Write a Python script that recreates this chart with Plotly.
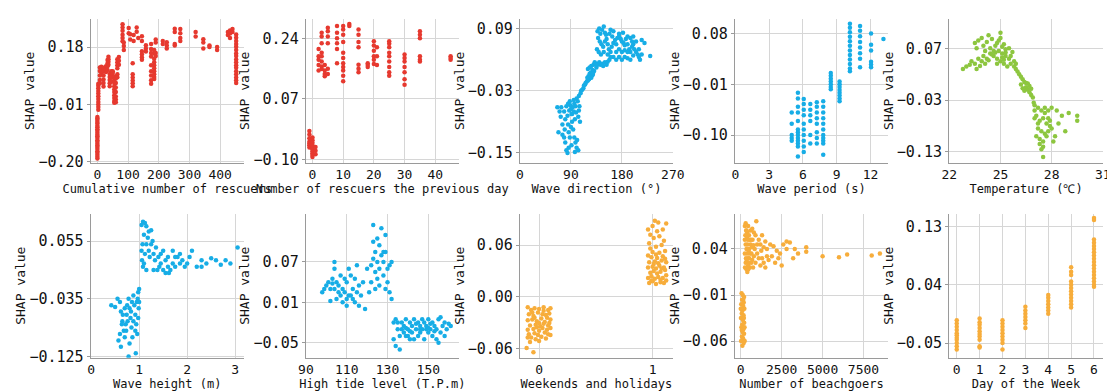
import plotly.graph_objects as go
from plotly.subplots import make_subplots

RED = "#e6392f"
BLUE = "#17ade6"
GREEN = "#8dc63f"
ORANGE = "#f7ad3b"

# ---------------- Panel 1: Cumulative number of rescuers (columns) -------------
cum_cols = [0, 3, 8, 13, 20, 28, 33, 36, 40, 45, 50, 55, 60, 65, 70, 82, 86, 102, 107, 115,
            118, 128, 133, 145, 158, 175, 185, 190, 213, 226, 252, 270, 320, 345, 365, 390,
            425, 432, 440, 452]
cum_vals = [
    [-0.19, -0.184, -0.177, -0.171, -0.166, -0.158, -0.152, -0.147, -0.141, -0.134, -0.129, -0.122,
     -0.116, -0.111, -0.104, -0.098, -0.093, -0.086, -0.081, -0.074, -0.069, -0.062, -0.057, -0.052],
    [-0.028, -0.019, -0.011, -0.002, 0.008, 0.017, 0.026, 0.034, 0.043, 0.052, 0.058],
    [0.112, 0.101, 0.086, 0.071, 0.06],
    [0.115, 0.109, 0.103, 0.09],
    [0.111, 0.099, 0.086, 0.072, 0.061, 0.049],
    [0.116, 0.106, 0.097],
    [0.137, 0.126, 0.116, 0.104],
    [0.148, 0.14, 0.131, 0.121],
    [0.091, 0.081, 0.071, 0.06, 0.05],
    [0.1, 0.089, 0.079, 0.066],
    [0.1, 0.094],
    [0.082, 0.071, 0.061, 0.05, 0.04, 0.031, 0.02, 0.011, 0.001, -0.005],
    [0.076, 0.061, 0.046, 0.031, 0.016, 0.006, -0.003],
    [0.14, 0.13, 0.12, 0.11, 0.09, 0.08],
    [0.147, 0.135, 0.121],
    [0.256, 0.245, 0.234, 0.221, 0.21, 0.199],
    [0.195, 0.184, 0.17],
    [0.243, 0.226],
    [0.223, 0.205],
    [0.126, 0.09, 0.079, 0.069, 0.06, 0.05],
    [0.22, 0.2],
    [0.245, 0.231],
    [0.21],
    [0.216, 0.2, 0.166, 0.156, 0.146, 0.138],
    [0.186, 0.175, 0.165],
    [0.19, 0.174, 0.16, 0.149, 0.12, 0.1, 0.086, 0.07, 0.058],
    [0.17, 0.159, 0.141, 0.13, 0.12, 0.11, 0.1, 0.09, 0.081, 0.074],
    [0.205, 0.195, 0.16, 0.15],
    [0.2, 0.19],
    [0.196, 0.185, 0.175],
    [0.241, 0.23, 0.19, 0.185],
    [0.24, 0.226, 0.21, 0.2],
    [0.23, 0.215],
    [0.206, 0.195, 0.175],
    [0.185, 0.18],
    [0.18, 0.17],
    [0.23, 0.22],
    [0.235, 0.225, 0.21],
    [0.24, 0.23],
    [0.222, 0.211, 0.2, 0.19, 0.181, 0.17, 0.159, 0.15, 0.139, 0.13, 0.12, 0.111, 0.1, 0.09,
     0.079, 0.07, 0.061],
]

# ---------------- Panel 2: Number of rescuers the previous day (columns) --------
prev_cols = [-1, 0, 1, 2, 3, 4, 5, 8, 10, 12, 15, 18, 20, 21, 25, 30, 35, 45]
prev_vals = [
    [-0.02, -0.03, -0.04, -0.05, -0.055, -0.06, -0.066],
    [-0.038, -0.046, -0.053, -0.06, -0.066, -0.071, -0.077, -0.082, -0.087, -0.093],
    [-0.065, -0.075, -0.085],
    [0.21, 0.19, 0.18, 0.165, 0.15],
    [0.256, 0.245, 0.226, 0.2, 0.19, 0.175, 0.161, 0.154],
    [0.165, 0.15, 0.14, 0.134],
    [0.27, 0.26, 0.245, 0.226, 0.155, 0.14],
    [0.275, 0.256, 0.24, 0.226, 0.21, 0.17],
    [0.275, 0.265, 0.25, 0.23, 0.2, 0.185, 0.17, 0.16, 0.15, 0.135, 0.12],
    [0.28, 0.275],
    [0.265, 0.25, 0.23, 0.215, 0.166, 0.155, 0.145],
    [0.17, 0.165, 0.16],
    [0.232, 0.22, 0.205, 0.19, 0.18, 0.168],
    [0.215, 0.19, 0.165],
    [0.232, 0.225, 0.215, 0.2, 0.19, 0.175, 0.16, 0.145, 0.135],
    [0.195, 0.185, 0.175, 0.16, 0.145, 0.125, 0.11],
    [0.26, 0.25, 0.24, 0.19, 0.18, 0.175],
    [0.19, 0.185, 0.18],
]

# ---------------- Panel 3: Wave direction (scatter) ----------------------------
wave_dir_pts = [
    (66, -0.062), (70, -0.07), (72, -0.08), (68, -0.11), (75, -0.115), (78, -0.12), (80, -0.13),
    (82, -0.145), (84, -0.15), (86, -0.14), (88, -0.12), (90, -0.1), (92, -0.09), (85, -0.095),
    (80, -0.085), (78, -0.07), (82, -0.06), (85, -0.055), (88, -0.05), (90, -0.065), (92, -0.075),
    (95, -0.07), (96, -0.055), (98, -0.06), (100, -0.045), (102, -0.05), (105, -0.06), (97, -0.085),
    (94, -0.105), (96, -0.12), (98, -0.13), (100, -0.14), (103, -0.145), (101, -0.125), (91, -0.075),
    (87, -0.068), (93, -0.062), (99, -0.072), (103, -0.08), (95, -0.048), (89, -0.058), (84, -0.078),
    (75, -0.095), (73, -0.062), (79, -0.105), (86, -0.11), (91, -0.135), (97, -0.148), (104, -0.068),
    (106, -0.09),
    (104, -0.04), (107, -0.035), (108, -0.03), (110, -0.028), (112, -0.025), (113, -0.02),
    (115, -0.018), (116, -0.015), (118, -0.012), (120, -0.01), (122, -0.008), (119, -0.005),
    (121, -0.002), (124, 0.0), (126, -0.005), (128, 0.0), (125, 0.005), (123, 0.003),
    (120, 0.012), (123, 0.015), (126, 0.018), (128, 0.01), (130, 0.02), (132, 0.025), (134, 0.022),
    (135, 0.015), (137, 0.02), (140, 0.025), (142, 0.02), (145, 0.022), (147, 0.018), (150, 0.025),
    (153, 0.02), (155, 0.026), (158, 0.03), (127, 0.005), (131, 0.008), (129, 0.003),
    (137, 0.085), (140, 0.09), (142, 0.08), (145, 0.088), (148, 0.094), (150, 0.082), (152, 0.078),
    (138, 0.072), (141, 0.065), (144, 0.06), (147, 0.055), (150, 0.065), (153, 0.07), (155, 0.06),
    (157, 0.05), (160, 0.045), (162, 0.055), (165, 0.062), (168, 0.068), (170, 0.06), (172, 0.072),
    (175, 0.075), (178, 0.07), (180, 0.065), (183, 0.062), (185, 0.058), (187, 0.07), (190, 0.06),
    (193, 0.05), (195, 0.045), (198, 0.055), (200, 0.06), (202, 0.05), (205, 0.045), (208, 0.04),
    (210, 0.035), (212, 0.03), (200, 0.038), (195, 0.03), (190, 0.033), (185, 0.035), (180, 0.03),
    (175, 0.035), (170, 0.03), (165, 0.035), (160, 0.035), (155, 0.04), (148, 0.045), (143, 0.04),
    (139, 0.045), (136, 0.05), (170, 0.045), (175, 0.05), (180, 0.045), (185, 0.048), (190, 0.045),
    (163, 0.075), (158, 0.08), (160, 0.088), (165, 0.085), (175, 0.08), (182, 0.082), (190, 0.075),
    (195, 0.072), (205, 0.065), (215, 0.068), (220, 0.062), (200, 0.075), (230, 0.037), (215, 0.04),
    (210, 0.05), (198, 0.065),
]

# ---------------- Panel 4: Wave period (columns) -------------------------------
period_cols = [5.0, 5.55, 6.07, 6.65, 7.23, 7.8, 8.47, 9.25, 10.17, 11.07, 12.05, 13.15]
period_vals = [
    [-0.06, -0.08, -0.1, -0.105, -0.11],
    [-0.025, -0.035, -0.05, -0.06, -0.075, -0.09, -0.095, -0.1, -0.105, -0.11, -0.115, -0.12, -0.138],
    [-0.036, -0.045, -0.055, -0.065, -0.08, -0.09, -0.1, -0.11, -0.12, -0.13],
    [-0.045, -0.055, -0.065, -0.075, -0.1, -0.115],
    [-0.042, -0.05, -0.06, -0.07, -0.08, -0.095, -0.105, -0.115],
    [-0.04, -0.05, -0.06, -0.07, -0.08, -0.09, -0.1, -0.105, -0.11, -0.115, -0.135],
    [0.01, 0.005, 0.0, -0.005, -0.01, -0.015, -0.019],
    [-0.005, -0.01, -0.015, -0.02, -0.025, -0.03, -0.035, -0.04],
    [0.097, 0.09, 0.082, 0.074, 0.066, 0.058, 0.05, 0.042, 0.034, 0.026, 0.018, 0.013],
    [0.093, 0.085, 0.075, 0.065, 0.055, 0.045, 0.035, 0.02],
    [0.08, 0.06, 0.05, 0.03, 0.025, 0.02],
    [0.07],
]

# ---------------- Panel 5: Temperature (scatter) -------------------------------
temp_pts = [
    (22.8, 0.03), (23.0, 0.035), (23.2, 0.038), (23.3, 0.045), (23.5, 0.04), (23.7, 0.05),
    (23.9, 0.045), (24.0, 0.055), (24.2, 0.05), (24.4, 0.06), (24.6, 0.055), (24.8, 0.05),
    (25.0, 0.045), (25.2, 0.04), (25.4, 0.035), (25.6, 0.04), (25.8, 0.035), (25.5, 0.05),
    (25.3, 0.055), (25.1, 0.06), (24.9, 0.065), (24.7, 0.062), (24.5, 0.058), (24.3, 0.047),
    (24.1, 0.04), (23.8, 0.036), (23.6, 0.03), (24.8, 0.04), (25.2, 0.048), (25.6, 0.055),
    (25.8, 0.045), (25.9, 0.04), (25.7, 0.063), (25.5, 0.07), (25.3, 0.062), (25.1, 0.052),
    (25.9, 0.03), (26.0, 0.025), (26.1, 0.02), (26.2, 0.015), (26.3, 0.01), (26.4, 0.005),
    (26.2, 0.0), (26.5, -0.005), (26.6, -0.01), (26.7, -0.015), (26.8, -0.008), (26.5, 0.003),
    (26.4, -0.012), (26.6, 0.002), (26.7, -0.003), (26.3, -0.007), (26.8, -0.02), (26.9, -0.025),
    (26.95, -0.035),
    (23.5, 0.08), (23.7, 0.085), (23.9, 0.09), (24.0, 0.075), (24.2, 0.082), (24.4, 0.07),
    (24.6, 0.065), (24.8, 0.08), (25.0, 0.09), (25.0, 0.1), (24.9, 0.085), (25.2, 0.078),
    (24.3, 0.095), (24.5, 0.088), (23.6, 0.07), (25.1, 0.073), (25.3, 0.068), (24.1, 0.065),
    (24.7, 0.075),
    (27.0, -0.04), (27.2, -0.045), (27.4, -0.05), (27.6, -0.055), (27.8, -0.05), (28.0, -0.045),
    (27.1, -0.06), (27.3, -0.07), (27.5, -0.065), (27.7, -0.075), (27.9, -0.08), (27.2, -0.085),
    (27.4, -0.09), (27.6, -0.095), (27.8, -0.09), (28.0, -0.085), (27.1, -0.1), (27.3, -0.105),
    (27.5, -0.11), (27.7, -0.1), (27.3, -0.115), (27.5, -0.12), (27.2, -0.075), (27.0, -0.065),
    (28.1, -0.11), (27.4, -0.125), (27.5, -0.14), (27.8, -0.065), (28.3, -0.05), (28.6, -0.06),
    (29.0, -0.055), (29.5, -0.06), (29.5, -0.07), (28.8, -0.09), (28.4, -0.075), (28.2, -0.1),
    (27.6, -0.045), (27.0, -0.05), (27.9, -0.07),
]

# ---------------- Panel 6: Wave height (scatter) -------------------------------
height_pts = [
    (0.42, -0.045), (0.5, -0.048), (0.55, -0.035), (0.6, -0.04), (0.62, -0.055), (0.65, -0.07),
    (0.68, -0.085), (0.6, -0.09), (0.57, -0.1), (0.62, -0.11), (0.7, -0.095), (0.72, -0.075),
    (0.74, -0.06), (0.75, -0.045), (0.78, -0.035), (0.8, -0.05), (0.82, -0.065), (0.84, -0.08),
    (0.86, -0.095), (0.8, -0.105), (0.78, -0.125), (0.88, -0.03), (0.9, -0.045), (0.92, -0.06),
    (0.94, -0.075), (0.96, -0.09), (0.93, -0.12), (0.98, -0.025), (1.0, -0.02), (0.97, -0.035),
    (0.99, -0.05), (0.95, -0.04), (0.85, -0.04), (0.7, -0.05), (0.66, -0.06), (0.76, -0.07),
    (0.88, -0.07), (0.92, -0.085), (0.98, -0.065), (1.0, -0.04), (0.83, -0.055), (0.73, -0.085),
    (0.64, -0.075),
    (1.05, 0.08), (1.08, 0.085), (1.12, 0.083), (1.15, 0.078), (1.2, 0.07), (1.25, 0.072),
    (1.1, 0.065), (1.07, 0.05), (1.05, 0.04), (1.06, 0.025), (1.08, 0.015), (1.1, 0.02),
    (1.15, 0.05), (1.18, 0.06), (1.2, 0.04), (1.22, 0.03), (1.25, 0.05), (1.28, 0.055),
    (1.3, 0.035), (1.33, 0.025), (1.35, 0.045), (1.4, 0.03), (1.42, 0.015), (1.45, 0.02),
    (1.5, 0.04), (1.55, 0.025), (1.6, 0.015), (1.62, 0.005), (1.65, 0.01), (1.7, 0.02),
    (1.75, 0.015), (1.8, 0.03), (1.85, 0.02), (1.9, 0.025), (1.95, 0.015), (2.0, 0.02),
    (2.05, 0.03), (2.1, 0.04), (2.2, 0.015), (2.3, 0.025), (2.4, 0.02), (2.5, 0.028),
    (2.6, 0.025), (2.7, 0.018), (2.8, 0.025), (2.9, 0.02), (3.05, 0.045), (1.7, 0.04),
    (1.85, 0.035), (1.6, 0.03), (1.12, 0.035), (1.15, 0.01), (1.3, 0.01), (1.38, 0.01),
    (1.5, 0.01), (1.55, 0.005), (1.75, 0.03), (1.45, 0.035), (2.3, 0.015),
]

# ---------------- Panel 7: High tide level (scatter) ---------------------------
tide_pts = [
    (98, 0.025), (99, 0.03), (100, 0.035), (101, 0.04), (102, 0.03), (103, 0.045), (104, 0.07),
    (104, 0.06), (105, 0.04), (106, 0.035), (107, 0.02), (107, 0.05), (108, 0.03), (109, 0.025),
    (110, 0.04), (110, 0.015), (111, 0.06), (112, 0.05), (112, 0.02), (113, 0.03), (114, 0.045),
    (114, 0.01), (115, 0.025), (115, 0.065), (116, 0.035), (117, 0.02), (118, 0.04), (119, 0.0),
    (120, 0.06), (102, 0.012), (104, 0.03), (106, 0.025), (108, 0.01), (110, 0.005), (111, 0.02),
    (113, 0.015), (116, 0.005), (105, 0.015), (109, 0.045), (103, 0.038),
    (121, 0.025), (122, 0.04), (122, 0.065), (123, 0.075), (123, 0.1), (123, 0.125), (124, 0.055),
    (124, 0.085), (125, 0.07), (125, 0.045), (126, 0.095), (126, 0.06), (127, 0.12), (127, 0.08),
    (128, 0.05), (128, 0.07), (129, 0.11), (129, 0.03), (130, 0.06), (130, 0.04), (131, 0.065),
    (131, 0.025), (132, 0.07), (132, 0.015), (124, 0.03), (126, 0.035), (128, 0.085),
    (125, 0.105), (129, 0.085),
    (133, -0.02), (133, -0.045), (134, -0.055), (134, -0.015), (135, -0.03), (136, -0.04),
    (136, -0.06), (137, -0.02), (138, -0.035), (138, -0.025), (139, -0.015), (140, -0.03),
    (140, -0.04), (141, -0.02), (142, -0.035), (142, -0.025), (143, -0.045), (143, -0.015),
    (144, -0.03), (145, -0.02), (145, -0.04), (146, -0.025), (146, -0.035), (147, -0.03),
    (147, -0.015), (148, -0.02), (148, -0.045), (149, -0.03), (149, -0.025), (150, -0.035),
    (150, -0.015), (151, -0.03), (152, -0.02), (152, -0.04), (153, -0.025), (154, -0.03),
    (154, -0.045), (155, -0.015), (155, -0.05), (156, -0.012), (156, -0.035), (157, -0.025),
    (158, -0.02), (158, -0.04), (159, -0.03), (160, -0.022), (161, -0.025), (137, -0.03),
    (139, -0.028), (141, -0.033), (144, -0.022), (151, -0.022), (153, -0.033), (135, -0.02),
    (146, -0.03), (150, -0.028), (141, -0.045), (139, -0.04),
]

# ---------------- Panel 8: Weekends and holidays (scatter) ---------------------
weekend_pts = [
    (-0.1, -0.012), (-0.07, -0.015), (-0.04, -0.013), (0.0, -0.014), (0.04, -0.012), (0.08, -0.015),
    (0.1, -0.013), (-0.09, -0.02), (-0.05, -0.022), (-0.01, -0.018), (0.03, -0.02), (0.06, -0.021),
    (0.09, -0.019), (-0.1, -0.027), (-0.06, -0.026), (-0.02, -0.028), (0.02, -0.025), (0.05, -0.029),
    (0.1, -0.026), (-0.08, -0.033), (-0.03, -0.032), (0.01, -0.034), (0.04, -0.031), (0.08, -0.033),
    (-0.1, -0.038), (-0.05, -0.037), (0.0, -0.039), (0.03, -0.036), (0.07, -0.038), (0.1, -0.036),
    (-0.09, -0.043), (-0.04, -0.042), (-0.01, -0.044), (0.05, -0.041), (0.08, -0.043),
    (-0.07, -0.047), (0.02, -0.046), (0.06, -0.048), (-0.03, -0.049), (-0.08, -0.052),
    (0.0, -0.051), (0.1, -0.044), (-0.11, -0.059), (-0.05, -0.064), (-0.06, -0.018),
    (0.07, -0.024), (-0.02, -0.035), (0.09, -0.03), (-0.1, -0.047), (0.04, -0.016),
    (-0.04, -0.024), (0.0, -0.03),
    (0.97, 0.016), (1.0, 0.018), (1.03, 0.015), (1.07, 0.017), (1.1, 0.016), (0.96, 0.022),
    (0.99, 0.024), (1.02, 0.021), (1.05, 0.023), (1.09, 0.022), (1.12, 0.025), (0.98, 0.028),
    (1.01, 0.03), (1.04, 0.027), (1.07, 0.029), (1.11, 0.031), (0.96, 0.034), (1.0, 0.035),
    (1.03, 0.033), (1.06, 0.036), (1.1, 0.034), (0.97, 0.04), (1.02, 0.041), (1.05, 0.039),
    (1.08, 0.042), (1.12, 0.04), (0.99, 0.046), (1.04, 0.045), (1.09, 0.047), (0.96, 0.048),
    (1.0, 0.052), (1.06, 0.051), (1.11, 0.053), (0.98, 0.056), (1.03, 0.058), (1.08, 0.06),
    (0.97, 0.062), (1.1, 0.065), (1.01, 0.068), (1.06, 0.07), (0.98, 0.072), (1.04, 0.076),
    (1.09, 0.078), (1.0, 0.082), (1.05, 0.086), (1.02, 0.088), (1.12, 0.085), (0.96, 0.078),
    (1.07, 0.02), (0.99, 0.019), (1.12, 0.019), (1.01, 0.038), (1.08, 0.033), (1.03, 0.049),
    (1.11, 0.044),
]

# ---------------- Panel 9: Number of beachgoers (scatter) ----------------------
beach_pts = [
    (50, -0.008), (120, -0.01), (200, -0.012), (80, -0.015), (180, -0.018), (30, -0.02),
    (150, -0.022), (220, -0.025), (100, -0.027), (60, -0.03), (170, -0.032), (10, -0.035),
    (130, -0.037), (210, -0.04), (90, -0.042), (40, -0.045), (160, -0.047), (110, -0.05),
    (200, -0.052), (70, -0.055), (140, -0.057), (20, -0.06), (180, -0.062), (100, -0.065),
    (240, -0.06), (60, -0.048), (190, -0.035), (0, -0.025), (150, -0.015), (230, -0.045),
    (250, 0.065), (300, 0.068), (350, 0.06), (400, 0.058), (450, 0.065), (500, 0.055),
    (550, 0.05), (600, 0.06), (700, 0.062), (800, 0.058), (900, 0.055), (950, 0.07),
    (1100, 0.05), (1200, 0.045), (1300, 0.055), (1400, 0.042), (1500, 0.048), (1600, 0.04),
    (1800, 0.045), (2000, 0.043), (2200, 0.038), (2400, 0.035), (2600, 0.045), (2800, 0.048),
    (3000, 0.047), (3200, 0.03), (3500, 0.035), (4000, 0.042), (4000, 0.037), (5000, 0.032),
    (6000, 0.031), (6500, 0.034), (8000, 0.033), (8500, 0.035),
    (250, 0.05), (300, 0.045), (350, 0.04), (400, 0.035), (450, 0.03), (500, 0.025), (550, 0.02),
    (250, 0.035), (300, 0.025), (350, 0.018), (400, 0.015), (450, 0.022), (500, 0.04),
    (600, 0.045), (650, 0.035), (700, 0.028), (750, 0.02), (800, 0.032), (850, 0.04),
    (900, 0.025), (1000, 0.035), (1100, 0.03), (1200, 0.022), (1300, 0.03), (1400, 0.025),
    (1500, 0.02), (1700, 0.028), (1900, 0.032), (2100, 0.025), (2300, 0.03), (2500, 0.022),
    (280, 0.055), (320, 0.03), (380, 0.052), (420, 0.045), (480, 0.038), (520, 0.03),
    (620, 0.05), (680, 0.042), (720, 0.05), (780, 0.044), (260, 0.02), (330, 0.06), (360, 0.028),
    (440, 0.05), (460, 0.018), (560, 0.035), (640, 0.025), (1000, 0.045), (1250, 0.038),
    (1600, 0.032), (2800, 0.04), (3300, 0.04),
]

# ---------------- Panel 10: Day of the Week (columns) --------------------------
day_cols = [0, 1, 2, 3, 4, 5, 6]
day_vals = [
    [-0.015, -0.02, -0.025, -0.03, -0.035, -0.038, -0.042, -0.045, -0.05, -0.055, -0.06],
    [-0.012, -0.018, -0.022, -0.027, -0.032, -0.036, -0.04, -0.045, -0.055, -0.057],
    [-0.015, -0.02, -0.025, -0.03, -0.035, -0.04, -0.045, -0.05, -0.06],
    [0.006, 0.0, -0.005, -0.01, -0.015, -0.02, -0.027],
    [0.024, 0.02, 0.015, 0.01, 0.005, 0.0, -0.005],
    [0.067, 0.06, 0.055, 0.045, 0.04, 0.035, 0.03, 0.025, 0.02, 0.015, 0.01, 0.005],
    [0.143, 0.14, 0.11, 0.105, 0.1, 0.095, 0.09, 0.085, 0.08, 0.075, 0.07, 0.065, 0.06, 0.055,
     0.05, 0.045, 0.04, 0.037],
]

x_titles = ["Cumulative number of rescuers", "Number of rescuers the previous day",
            "Wave direction (°)", "Wave period (s)", "Temperature (℃)",
            "Wave height (m)", "High tide level (T.P.m)", "Weekends and holidays",
            "Number of beachgoers", "Day of the Week"]
x_ticks = [[0, 100, 200, 300, 400], [0, 10, 20, 30, 40], [0, 90, 180, 270], [0, 3, 6, 9, 12],
           [22, 25, 28, 31], [0, 1, 2, 3], [90, 110, 130, 150], [0, 1], [0, 2500, 5000, 7500],
           [0, 1, 2, 3, 4, 5, 6]]
y_ticks = [[-0.20, -0.01, 0.18], [-0.10, 0.07, 0.24], [-0.15, -0.03, 0.09], [-0.10, -0.01, 0.08],
           [-0.13, -0.03, 0.07], [-0.125, -0.035, 0.055], [-0.05, 0.01, 0.07], [-0.06, 0.00, 0.06],
           [-0.06, -0.01, 0.04], [-0.05, 0.04, 0.13]]


def expand(cols, vals):
    xs, ys = [], []
    for c, v in zip(cols, vals):
        xs += [c] * len(v)
        ys += v
    return xs, ys


def split(pts):
    return [p[0] for p in pts], [p[1] for p in pts]


series = [
    expand(cum_cols, cum_vals) + (RED,),
    expand(prev_cols, prev_vals) + (RED,),
    split(wave_dir_pts) + (BLUE,),
    expand(period_cols, period_vals) + (BLUE,),
    split(temp_pts) + (GREEN,),
    split(height_pts) + (BLUE,),
    split(tide_pts) + (BLUE,),
    split(weekend_pts) + (ORANGE,),
    split(beach_pts) + (ORANGE,),
    expand(day_cols, day_vals) + (ORANGE,),
]

# layout (pixels)
W, H = 1115, 391
xdom_px = [(76, 232), (295, 451), (513, 669), (732, 888), (950, 1107)]
ydom_px = [(11, 158), (210, 357)]
x_ranges = [[-22, 477], [-2.2, 47.7], [-0.3, 270.3], [-0.05, 13.56], [21.98, 31.02],
            [-0.01, 3.18], [89.9, 165], [-0.17, 1.18], [-360, 9000], [-0.34, 6.4]]
y_ranges = [[-0.204, 0.274], [-0.109, 0.295], [-0.169, 0.109], [-0.149, 0.106], [-0.151, 0.127],
            [-0.127, 0.0977], [-0.0723, 0.1418], [-0.0702, 0.0962], [-0.078, 0.0783],
            [-0.0727, 0.1497]]
y_formats = [".2f", ".2f", ".2f", ".2f", ".2f", ".3f", ".2f", ".2f", ".2f", ".2f"]

FONT = "DejaVu Sans Mono"
fig = make_subplots(rows=2, cols=5)

for i, (xs, ys, col) in enumerate(series):
    r, c = i // 5 + 1, i % 5 + 1
    fig.add_trace(go.Scatter(x=xs, y=ys, mode="markers",
                             marker=dict(color=col, size=4.5, line=dict(width=0)),
                             showlegend=False), row=r, col=c)
    x0, x1 = xdom_px[c - 1]
    y0, y1 = ydom_px[r - 1]
    fig.update_xaxes(row=r, col=c, domain=[x0 / W, x1 / W], range=x_ranges[i],
                     tickvals=x_ticks[i], tickformat="d",
                     title=dict(text=x_titles[i], font=dict(size=12, family=FONT, color="#111"),
                                standoff=0),
                     showgrid=True, gridcolor="#d6d6d6", gridwidth=1, zeroline=False,
                     showline=True, linecolor="#9a9a9a", linewidth=1,
                     tickfont=dict(size=13, family=FONT, color="#111"), ticks="")
    fig.update_yaxes(row=r, col=c, domain=[1 - y1 / H, 1 - y0 / H], range=y_ranges[i],
                     tickvals=y_ticks[i], tickformat=y_formats[i],
                     title=dict(text="SHAP value", font=dict(size=13, family=FONT, color="#111"),
                                standoff=0),
                     showgrid=True, gridcolor="#d6d6d6", gridwidth=1, zeroline=False,
                     showline=True, linecolor="#9a9a9a", linewidth=1,
                     tickfont=dict(size=15, family=FONT, color="#111"),
                     ticks="outside", ticklen=3, tickcolor="#9a9a9a")

fig.update_layout(width=W, height=H, margin=dict(l=0, r=0, t=0, b=0),
                  paper_bgcolor="white", plot_bgcolor="white",
                  font=dict(family=FONT, color="#111"))

fig.write_html("out.html")
